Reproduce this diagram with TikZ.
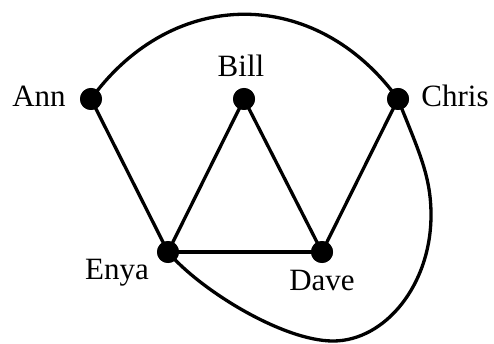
\documentclass[tikz,border=0pt]{standalone}
\usepackage{fontspec}
\setmainfont{Liberation Serif}
\begin{document}
\begin{tikzpicture}[x=1pt,y=-1pt,
  vtx/.style={circle,fill=black,inner sep=0pt,minimum size=22pt},
  lbl/.style={anchor=base,inner sep=0pt,font=\fontsize{31}{31}\selectfont},
  edge/.style={line width=3.3pt,line cap=round}]
\useasboundingbox (0,0) rectangle (494,344);
\node[vtx] (ann) at (91,99) {};
\node[vtx] (bill) at (244,99) {};
\node[vtx] (chris) at (398,99) {};
\node[vtx] (enya) at (168,252) {};
\node[vtx] (dave) at (322,252) {};
\node[lbl] (lann) at (39,107) {Ann};
\node[lbl] (lbill) at (241,77) {Bill};
\node[lbl] (lchris) at (455,107) {Chris};
\node[lbl] (lenya) at (117,279) {Enya};
\node[lbl] (ldave) at (322,290) {Dave};
\coordinate (r) at (431,215);
\coordinate (b) at (333,341);
\draw[edge] (ann.center) -- (enya.center);
\draw[edge] (bill.center) -- (enya.center);
\draw[edge] (bill.center) -- (dave.center);
\draw[edge] (chris.center) -- (dave.center);
\draw[edge] (enya.center) -- (dave.center);
\draw[edge] (ann.center) .. controls (173,-14) and (316,-14) .. (chris.center);
\draw[edge] (chris.center) .. controls (418,150) and (431,175) .. (r)
  .. controls (431,285) and (385,341) .. (b)
  .. controls (283,341) and (200,290) .. (enya.center);
\foreach \n in {ann,bill,chris,enya,dave} \fill (\n) circle (11pt);
\end{tikzpicture}
\end{document}
